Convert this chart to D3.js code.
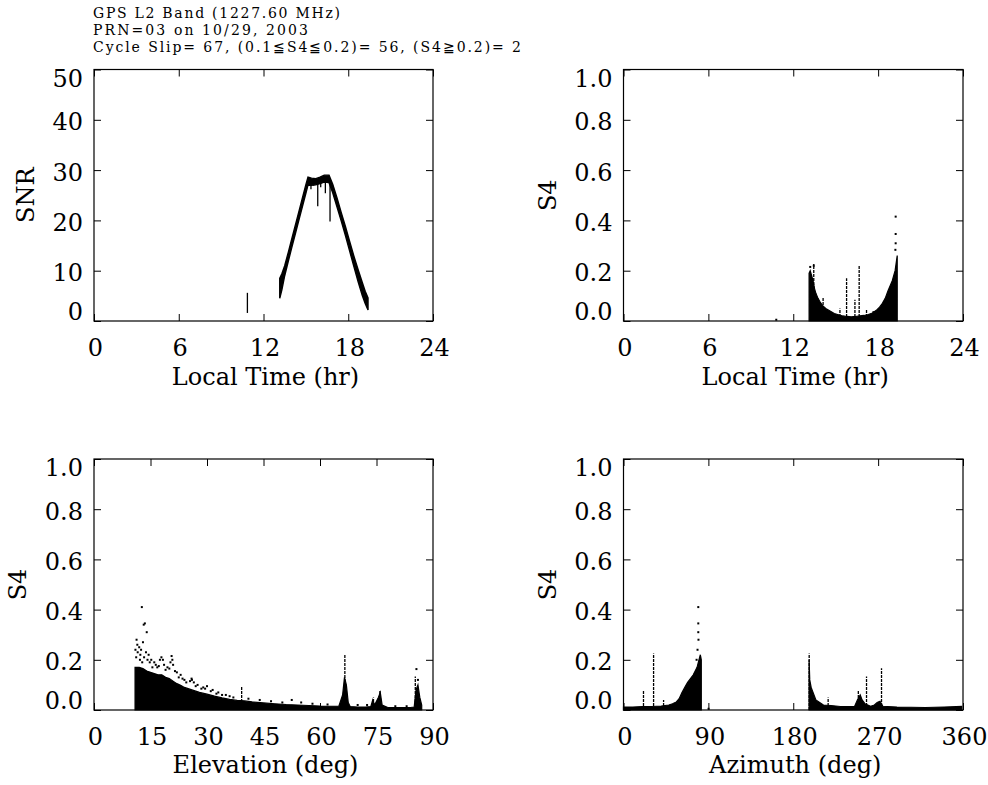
<!DOCTYPE html>
<html><head><meta charset="utf-8">
<script src="https://cdn.jsdelivr.net/npm/d3@7"></script>
<style>
body{margin:0;background:#fff;}
svg{display:block;background:#fff;}
text{font-family:"DejaVu Serif",serif;fill:#000;}
</style></head><body>
<svg id="c" width="988" height="785"></svg>
<script>
// ================= DATA =================
const titleLines = [
  "GPS L2 Band (1227.60 MHz)",
  "PRN=03 on 10/29, 2003",
  "Cycle Slip= 67, (0.1\u2266S4\u22660.2)= 56, (S4\u22670.2)= 2"
];
const ltTicks   = [0, 6, 12, 18, 24];
const snrTicks  = [0, 10, 20, 30, 40, 50];
const s4Ticks   = [0, 0.2, 0.4, 0.6, 0.8, 1.0];
const elevTicks = [0, 15, 30, 45, 60, 75, 90];
const azTicks   = [0, 90, 180, 270, 360];

// Panel 1: SNR vs local time (band lower / upper edge)
const snrLT = [13.15, 13.3, 13.5, 13.75, 14.0, 14.25, 14.5, 14.75, 15.0, 15.15, 15.4, 15.7, 16.0, 16.3, 16.64, 16.9, 17.2, 17.5, 17.8, 18.1, 18.4, 18.7, 19.0, 19.2, 19.4];
const snrLo = [4.5, 6.2, 9.0, 11.8, 14.6, 17.3, 20.0, 22.7, 25.4, 27.0, 27.0, 27.1, 27.3, 27.6, 27.5, 25.5, 22.7, 19.9, 17.0, 13.9, 10.8, 7.8, 5.0, 3.5, 2.2];
const snrHi = [8.5, 9.4, 11.0, 13.6, 16.3, 19.0, 21.7, 24.4, 27.1, 28.6, 28.4, 28.3, 28.6, 29.0, 29.0, 27.2, 24.5, 21.6, 18.8, 15.8, 12.9, 10.2, 7.6, 5.9, 4.6];
const snrSpikeX   = [15.36, 15.55, 15.84, 16.05, 16.38, 16.71, 10.86];
const snrSpikeTop = [27.6, 27.6, 27.6, 28.0, 28.4, 28.4, 5.6];
const snrSpikeBot = [26.2, 26.9, 22.8, 26.6, 25.4, 19.8, 1.6];

// Panel 2: S4 vs local time
const s4ltX  = [13.12, 13.2, 13.3, 13.4, 13.5, 13.6, 13.75, 13.9, 14.1, 14.3, 14.6, 14.9, 15.2, 15.5, 15.8, 16.1, 16.4, 16.7, 17.0, 17.3, 17.6, 17.9, 18.1, 18.3, 18.5, 18.7, 18.85, 19.0, 19.1, 19.2, 19.3, 19.35];
const s4ltHi = [0.19, 0.20, 0.18, 0.16, 0.13, 0.11, 0.09, 0.075, 0.06, 0.05, 0.04, 0.03, 0.025, 0.02, 0.018, 0.017, 0.018, 0.02, 0.022, 0.026, 0.032, 0.044, 0.055, 0.07, 0.09, 0.12, 0.14, 0.16, 0.18, 0.20, 0.24, 0.26];
const s4ltSpikeX   = [13.45, 14.11, 15.3, 15.77, 16.36, 16.66, 17.18, 17.65];
const s4ltSpikeTop = [0.227, 0.094, 0.05, 0.17, 0.084, 0.223, 0.044, 0.04];
const s4ltDotX = [19.24, 19.24, 19.24, 19.22, 13.2, 13.45, 10.8];
const s4ltDotY = [0.415, 0.346, 0.309, 0.283, 0.215, 0.22, 0.005];

// Panel 3: S4 vs elevation
const s4elX  = [10.9, 12, 13, 14, 15, 16, 17, 18, 19, 20, 21, 22, 23, 24, 25, 26, 27, 28, 30, 32, 34, 36, 38, 40, 42, 45, 48, 51, 54, 57, 60, 63, 65, 66, 66.5, 67, 67.5, 68, 70, 72, 73.5, 74, 74.5, 75.5, 76, 76.5, 78, 80, 82, 84, 85, 85.5, 86, 86.5, 87];
const s4elHi = [0.17, 0.17, 0.165, 0.155, 0.15, 0.145, 0.14, 0.14, 0.13, 0.125, 0.115, 0.105, 0.098, 0.09, 0.085, 0.08, 0.075, 0.07, 0.063, 0.055, 0.048, 0.042, 0.038, 0.036, 0.032, 0.028, 0.025, 0.022, 0.02, 0.018, 0.016, 0.015, 0.015, 0.06, 0.13, 0.10, 0.03, 0.014, 0.012, 0.012, 0.014, 0.04, 0.02, 0.05, 0.07, 0.02, 0.01, 0.01, 0.01, 0.01, 0.012, 0.08, 0.10, 0.05, 0.02];
const s4elSpikeX   = [66.6, 39.2, 74.2, 75.9, 85.3];
const s4elSpikeTop = [0.22, 0.093, 0.05, 0.08, 0.133];
const s4elDotX = [12.7, 13.5, 13.2, 14.0, 11.3, 11.5, 12.0, 12.5, 13.0, 13.8, 12.3, 14.5, 11.2, 15.2, 16.0, 17.5, 17.9, 18.3, 20.6, 20.3, 21.0, 19.5, 16.8, 22.0, 23.0, 24.0, 25.9, 26.5, 27.5, 29.0, 30.0, 31.5, 33.0, 35.0, 44.0, 52.5, 85.6, 86.0,
  11.0, 11.6, 12.2, 12.8, 13.3, 14.2, 14.8, 15.5, 16.4, 17.2, 18.6, 19.0, 20.0, 20.8, 21.5, 22.5, 23.5, 24.5, 25.5, 26.0, 27.0, 28.5, 29.5, 31.0, 32.5, 34.0, 36.0, 37.0, 41.0, 47.0, 50.0, 55.0, 58.0, 62.0, 70.0, 72.5, 80.0, 83.0];
const s4elDotY = [0.41, 0.345, 0.34, 0.31, 0.28, 0.26, 0.25, 0.24, 0.27, 0.23, 0.22, 0.22, 0.21, 0.20, 0.19, 0.20, 0.21, 0.20, 0.215, 0.19, 0.18, 0.17, 0.17, 0.15, 0.14, 0.12, 0.125, 0.11, 0.10, 0.09, 0.095, 0.08, 0.07, 0.06, 0.04, 0.04, 0.163, 0.12,
  0.24, 0.23, 0.20, 0.19, 0.21, 0.20, 0.19, 0.17, 0.18, 0.175, 0.18, 0.16, 0.165, 0.20, 0.155, 0.13, 0.125, 0.11, 0.115, 0.12, 0.095, 0.085, 0.085, 0.075, 0.065, 0.06, 0.055, 0.05, 0.045, 0.035, 0.03, 0.03, 0.025, 0.022, 0.02, 0.02, 0.015, 0.015];

// Panel 4: S4 vs azimuth (null breaks the two arcs)
const s4azX  = [0, 10, 20, 30, 40, 48, 52, 56, 59, 62, 65, 68, 71, 74, 76, 78, 80, 81.5, 82.5, 83, 196.8, 197.5, 199, 201, 204, 208, 212, 220, 230, 245, 248, 251, 253, 256, 262, 266, 269, 272, 275, 290, 320, 340, 358.6];
const s4azHi = [0.012, 0.012, 0.014, 0.014, 0.016, 0.02, 0.025, 0.032, 0.045, 0.07, 0.09, 0.11, 0.125, 0.14, 0.155, 0.17, 0.2, 0.22, 0.2, null, 0.2, 0.12, 0.09, 0.07, 0.04, 0.03, 0.02, 0.018, 0.014, 0.014, 0.04, 0.06, 0.04, 0.025, 0.015, 0.02, 0.03, 0.035, 0.015, 0.012, 0.01, 0.012, 0.014];
const s4azSpikeX   = [21.2, 31.9, 42.5, 196.9, 217, 249, 257.7, 273.6];
const s4azSpikeTop = [0.08, 0.225, 0.04, 0.225, 0.05, 0.08, 0.133, 0.166];
const s4azDotX = [79.3, 79.3, 79.3, 79.5, 90.2, 78.5, 77.5];
const s4azDotY = [0.41, 0.345, 0.31, 0.28, 0.005, 0.24, 0.2];

// ================= DRAW =================
const svg = d3.select("#c");
svg.append("rect").attr("width", 988).attr("height", 785).attr("fill", "#fff");

// title
svg.append("g").selectAll("text").data(titleLines).join("text")
  .attr("x", 93).attr("y", (d, i) => 18 + i * 17.2)
  .attr("font-size", 14)
  .attr("textLength", (d, i) => [247, 215, 428][i])
  .attr("lengthAdjust", "spacing")
  .text(d => d);

const FS = 24;
const panels = [
  {x0: 94, x1: 433, y0: 69.5, y1: 321, xd: [0, 24], yd: [0, 50], xt: ltTicks, yt: snrTicks, xl: "Local Time (hr)", yl: "SNR", ylx: 25, yfmt: d3.format("d"), xfmt: d3.format("d"), tb: 34.5, lb: 63.5},
  {x0: 623.5, x1: 963, y0: 69.5, y1: 321, xd: [0, 24], yd: [0, 1], xt: ltTicks, yt: s4Ticks, xl: "Local Time (hr)", yl: "S4", ylx: 547, yfmt: d3.format(".1f"), xfmt: d3.format("d"), tb: 34.5, lb: 63.5},
  {x0: 94, x1: 433, y0: 459, y1: 710, xd: [0, 90], yd: [0, 1], xt: elevTicks, yt: s4Ticks, xl: "Elevation (deg)", yl: "S4", ylx: 17, yfmt: d3.format(".1f"), xfmt: d3.format("d"), tb: 35, lb: 63},
  {x0: 623.5, x1: 963, y0: 459, y1: 710, xd: [0, 360], yd: [0, 1], xt: azTicks, yt: s4Ticks, xl: "Azimuth (deg)", yl: "S4", ylx: 547, yfmt: d3.format(".1f"), xfmt: d3.format("d"), tb: 35, lb: 63}
];

panels.forEach(p => {
  p.x = d3.scaleLinear().domain(p.xd).range([p.x0, p.x1]);
  p.y = d3.scaleLinear().domain(p.yd).range([p.y1, p.y0]);
});

function styleAxis(g) {
  g.attr("font-family", "DejaVu Serif").attr("font-size", FS);
  g.select(".domain").remove();
  g.selectAll(".tick line").attr("stroke", "#000").attr("stroke-width", 1);
  g.selectAll(".tick text").attr("fill", "#000");
}

function drawAxes(p) {
  const g = svg.append("g");
  const n = p.yt.length;
  // bottom
  g.append("g").attr("transform", `translate(0,${p.y1})`)
    .call(d3.axisBottom(p.x).tickValues(p.xt).tickFormat(p.xfmt).tickSizeInner(-7).tickSizeOuter(0))
    .call(styleAxis)
    .call(a => a.selectAll(".tick text").attr("y", p.tb).attr("dy", 0).attr("dx", 1));
  // top
  g.append("g").attr("transform", `translate(0,${p.y0})`)
    .call(d3.axisTop(p.x).tickValues(p.xt).tickFormat("").tickSizeInner(-7).tickSizeOuter(0))
    .call(styleAxis);
  // left
  g.append("g").attr("transform", `translate(${p.x0},0)`)
    .call(d3.axisLeft(p.y).tickValues(p.yt).tickFormat(p.yfmt).tickSizeInner(-7).tickSizeOuter(0))
    .call(styleAxis)
    .call(a => a.selectAll(".tick text").attr("x", -11)
      .attr("dy", (d, i) => i === 0 ? "-0.05em" : (i === n - 1 ? "0.7em" : "0.42em")));
  // right
  g.append("g").attr("transform", `translate(${p.x1},0)`)
    .call(d3.axisRight(p.y).tickValues(p.yt).tickFormat("").tickSizeInner(-7).tickSizeOuter(0))
    .call(styleAxis);
  // frame
  g.append("rect").attr("x", p.x0).attr("y", p.y0)
    .attr("width", p.x1 - p.x0).attr("height", p.y1 - p.y0)
    .attr("fill", "none").attr("stroke", "#000").attr("stroke-width", 1.2);
  // x title
  g.append("text").attr("x", (p.x0 + p.x1) / 2 + 2).attr("y", p.y1 + p.lb)
    .attr("text-anchor", "middle").attr("font-size", FS).text(p.xl);
  // y title
  const cy = (p.y0 + p.y1) / 2;
  g.append("text").attr("transform", `translate(${p.ylx},${cy}) rotate(-90)`)
    .attr("text-anchor", "middle").attr("dy", "0.36em").attr("font-size", FS).text(p.yl);
}

function drawCore(p, xs, his) {
  const data = xs.map((x, i) => ({x, h: his[i]}));
  const area = d3.area().defined(d => d.h != null)
    .x(d => p.x(d.x)).y0(p.y(0)).y1(d => p.y(d.h));
  svg.append("path").datum(data).attr("d", area)
    .attr("fill", "#000").attr("stroke", "#000").attr("stroke-width", 1.2);
}
function drawSpikes(p, xs, tops, bots) {
  svg.append("g").selectAll("line").data(xs).join("line")
    .attr("x1", d => p.x(d)).attr("x2", d => p.x(d))
    .attr("y1", (d, i) => p.y(bots ? bots[i] : 0))
    .attr("y2", (d, i) => p.y(tops[i]))
    .attr("stroke", "#000").attr("stroke-width", 1.3).attr("stroke-dasharray", bots ? null : "3,1");
}
function drawDots(p, xs, ys) {
  svg.append("g").selectAll("rect").data(xs).join("rect")
    .attr("x", d => p.x(d) - 1).attr("y", (d, i) => p.y(ys[i]) - 1)
    .attr("width", 2).attr("height", 2).attr("fill", "#000");
}

// Panel 1
{
  const p = panels[0];
  const data = snrLT.map((x, i) => ({x, lo: snrLo[i], hi: snrHi[i]}));
  const area = d3.area().x(d => p.x(d.x)).y0(d => p.y(d.lo)).y1(d => p.y(d.hi));
  svg.append("path").datum(data).attr("d", area)
    .attr("fill", "#000").attr("stroke", "#000").attr("stroke-width", 1.4);
  drawSpikes(p, snrSpikeX, snrSpikeTop, snrSpikeBot);
}
// Panel 2
{
  const p = panels[1];
  drawCore(p, s4ltX, s4ltHi);
  drawSpikes(p, s4ltSpikeX, s4ltSpikeTop);
  drawDots(p, s4ltDotX, s4ltDotY);
}
// Panel 3
{
  const p = panels[2];
  drawCore(p, s4elX, s4elHi);
  drawSpikes(p, s4elSpikeX, s4elSpikeTop);
  drawDots(p, s4elDotX, s4elDotY);
}
// Panel 4
{
  const p = panels[3];
  drawCore(p, s4azX, s4azHi);
  drawSpikes(p, s4azSpikeX, s4azSpikeTop);
  drawDots(p, s4azDotX, s4azDotY);
}

panels.forEach(drawAxes);
</script>
</body></html>
